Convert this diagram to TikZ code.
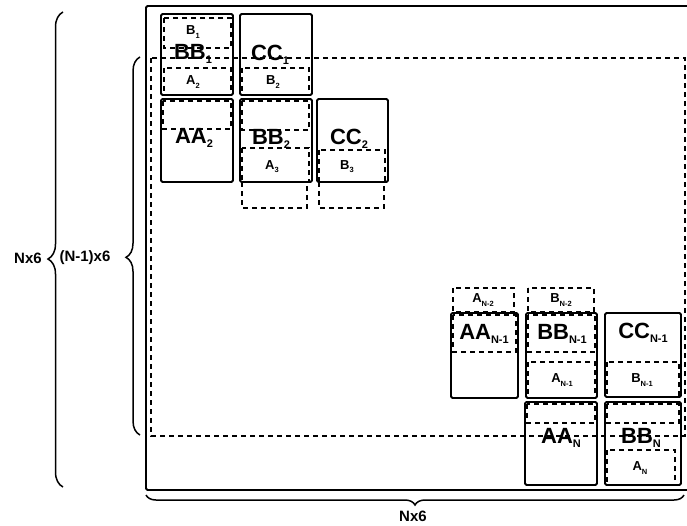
\documentclass[tikz,border=0pt]{standalone}
\usepackage{fontspec}
\setmainfont{Liberation Sans}
\usetikzlibrary{decorations.pathreplacing}

\newcommand{\blocklabel}[2]{{\fontsize{22}{22}\selectfont #1\raisebox{-0.35ex}{\fontsize{11}{11}\selectfont #2}}}
\newcommand{\partlabel}[2]{{\fontsize{13}{13}\selectfont #1\raisebox{-0.45ex}{\fontsize{7.5}{7.5}\selectfont #2}}}

\tikzset{
  block/.style={line width=1.8pt, rounded corners=1.5pt},
  part/.style={line width=1.5pt, dash pattern=on 5pt off 4pt},
  dimbrace/.style={line width=1.5pt, decorate, decoration={brace, amplitude=#1}},
  dimbrace/.default=10,
  dimtext/.style={font=\fontsize{15}{15}\selectfont\bfseries},
}

\begin{document}
\begin{tikzpicture}[x=1pt,y=-1pt,font=\bfseries]
  \useasboundingbox (0,0) rectangle (687,525);
  \clip (0,0) rectangle (687,525);

  % whole matrix and the (N-1)x6 part
  \draw[block] (146,6) rectangle (700,490);
  \draw[part] (151,58) rectangle (685,436);

  % braces
  \coordinate (NL1) at (63,487);
  \coordinate (NL2) at (63,12);
  \coordinate (ML1) at (140,435);
  \coordinate (ML2) at (140,57);
  \coordinate (NB1) at (684,495);
  \coordinate (NB2) at (146,495);
  \draw[dimbrace=15, decoration={aspect=0.48}] (NL1) -- (NL2);
  \draw[dimbrace=14, decoration={aspect=0.47}] (ML1) -- (ML2);
  \draw[dimbrace=10, decoration={aspect=0.5}] (NB1) -- (NB2);
  \node[dimtext] (nleft) at (28,258) {Nx6};
  \node[dimtext] (mleft) at (85,258) {(N-1)x6};
  \node[dimtext] (nbottom) at (413,516) {Nx6};

  % first block row
  \draw[block] (161,14) rectangle (233,95);
  \draw[part] (164,18) rectangle (231,48);
  \draw[part] (164,68) rectangle (231,95);
  \node (b1) at (193,32) {\partlabel{B}{1}};
  \node (bb1) at (193,54) {\blocklabel{BB}{1}};
  \node (a2) at (193,82) {\partlabel{A}{2}};

  \draw[block] (240,14) rectangle (312,95);
  \draw[part] (242,68) rectangle (309,95);
  \node (cc1) at (270,55) {\blocklabel{CC}{1}};
  \node (b2) at (273,82) {\partlabel{B}{2}};

  % second block row
  \draw[block] (161,99) rectangle (233,182);
  \draw[part] (163,101) rectangle (231,129);
  \node (aa2) at (194,138) {\blocklabel{AA}{2}};

  \draw[block] (240,99) rectangle (312,182);
  \draw[part] (242,101) rectangle (309,130);
  \draw[part] (242,148) rectangle (309,182);
  \draw[part] (242,182) rectangle (307,208);
  \node (bb2) at (271,139) {\blocklabel{BB}{2}};
  \node (a3) at (272,167) {\partlabel{A}{3}};

  \draw[block] (317,99) rectangle (388,182);
  \draw[part] (319,150) rectangle (385,182);
  \draw[part] (319,182) rectangle (384,208);
  \node (cc2) at (349,139) {\blocklabel{CC}{2}};
  \node (b3) at (347,167) {\partlabel{B}{3}};

  % row N-1
  \draw[part] (453,288) rectangle (514,312);
  \draw[part] (528,288) rectangle (594,312);
  \node (an2) at (483,300) {\partlabel{A}{N-2}};
  \node (bn2) at (561,300) {\partlabel{B}{N-2}};

  \draw[block] (451,313) rectangle (518,398);
  \draw[part] (453,315) rectangle (516,352);
  \node (aan1) at (484,334) {\blocklabel{AA}{N-1}};

  \draw[block] (526,313) rectangle (597,398);
  \draw[part] (528,315) rectangle (595,352);
  \draw[part] (528,362) rectangle (595,398);
  \node (bbn1) at (562,334) {\blocklabel{BB}{N-1}};
  \node (an1) at (562,380) {\partlabel{A}{N-1}};

  \draw[block] (605,313) rectangle (681,397);
  \draw[part] (607,362) rectangle (679,397);
  \node (ccn1) at (643,333) {\blocklabel{CC}{N-1}};
  \node (bn1) at (642,380) {\partlabel{B}{N-1}};

  % row N
  \draw[block] (525,402) rectangle (597,485);
  \draw[part] (527,404) rectangle (595,423);
  \node (aan) at (561,438) {\blocklabel{AA}{N}};

  \draw[block] (605,402) rectangle (681,485);
  \draw[part] (607,404) rectangle (679,423);
  \draw[part] (607,450) rectangle (675,485);
  \node (bbn) at (641,438) {\blocklabel{BB}{N}};
  \node (an) at (640,468) {\partlabel{A}{N}};
\end{tikzpicture}
\end{document}
